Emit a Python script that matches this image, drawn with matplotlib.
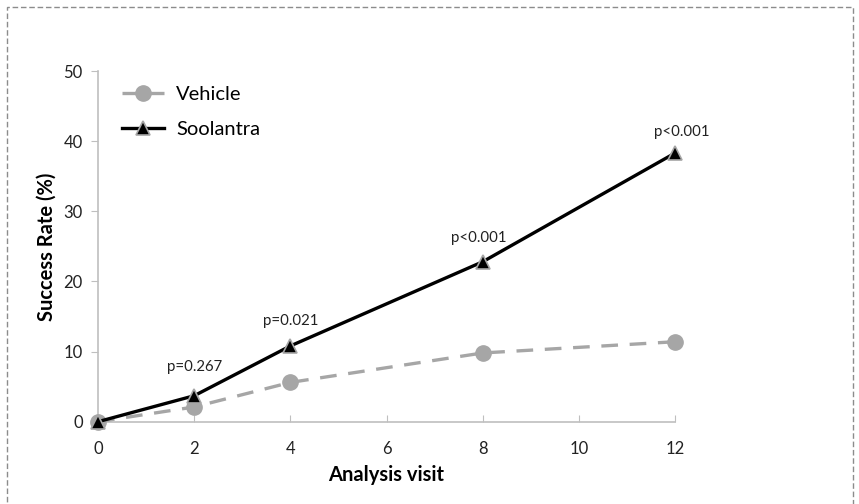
import numpy as np
import matplotlib
matplotlib.use('Agg')
import matplotlib.pyplot as plt
from matplotlib.patches import Rectangle

plt.rcParams['font.family'] = ['Lato', 'DejaVu Sans']

visits = [0, 2, 4, 8, 12]
vehicle = [0.0, 2.1, 5.6, 9.8, 11.4]
soolantra = [0.0, 3.7, 10.8, 22.8, 38.3]
p_labels = ['p=0.267', 'p=0.021', 'p<0.001', 'p<0.001']
x_ticks = [0, 2, 4, 6, 8, 10, 12]
y_ticks = [0, 10, 20, 30, 40, 50]

fig = plt.figure(figsize=(8.59, 5.04), dpi=100)
ax = fig.add_axes([0.1141, 0.1633, 0.6717, 0.6958])

grey = '#A6A6A6'
ax.plot(visits, vehicle, color=grey, lw=2.4, dashes=(5, 3.5), marker='o',
        markersize=11, markerfacecolor=grey, markeredgecolor=grey,
        label='Vehicle', zorder=3)
ax.plot(visits, soolantra, color='black', lw=2.4, marker='^',
        markersize=10, markerfacecolor='black', markeredgecolor=grey,
        markeredgewidth=1.2, label='Soolantra', zorder=4)

# p-value labels above the Soolantra points (skip baseline)
offsets = [(0, 16), (0, 13), (-3, 12), (5, 10)]
for x, y, txt, off in zip(visits[1:], soolantra[1:], p_labels, offsets):
    ax.annotate(txt, xy=(x, y), xytext=off, textcoords='offset points',
                ha='center', va='bottom', fontsize=10.8, color='#222222')

ax.set_xlim(0, 12)
ax.set_ylim(0, 50)
ax.set_xticks(x_ticks)
ax.set_yticks(y_ticks)
ax.tick_params(axis='x', direction='in', length=5, color='#BFBFBF',
               labelsize=12, labelcolor='#222222', pad=14)
ax.tick_params(axis='y', direction='out', length=5, color='#BFBFBF',
               labelsize=12, labelcolor='#222222', pad=6)
for s in ['top', 'right']:
    ax.spines[s].set_visible(False)
for s in ['left', 'bottom']:
    ax.spines[s].set_color('#BFBFBF')
    ax.spines[s].set_linewidth(1.2)
for ln in ax.lines:
    ln.set_clip_on(False)

ax.set_xlabel('Analysis visit', fontsize=14.5, fontweight='bold', labelpad=6)
ax.set_ylabel('Success Rate (%)', fontsize=14.5, fontweight='bold', labelpad=5)

leg = ax.legend(loc='upper left', bbox_to_anchor=(0.01, 1.01), frameon=False,
                fontsize=14.5, handlelength=2.1, labelspacing=0.9,
                handletextpad=0.6)

# dashed border around the figure
fig.patches.append(Rectangle((7 / 859, -0.02), 846 / 859, 1 - 7 / 504 + 0.02,
                             transform=fig.transFigure, fill=False,
                             edgecolor='#8C8C8C', lw=1, ls=(0, (4, 2))))

plt.savefig('out.png', dpi=100)
